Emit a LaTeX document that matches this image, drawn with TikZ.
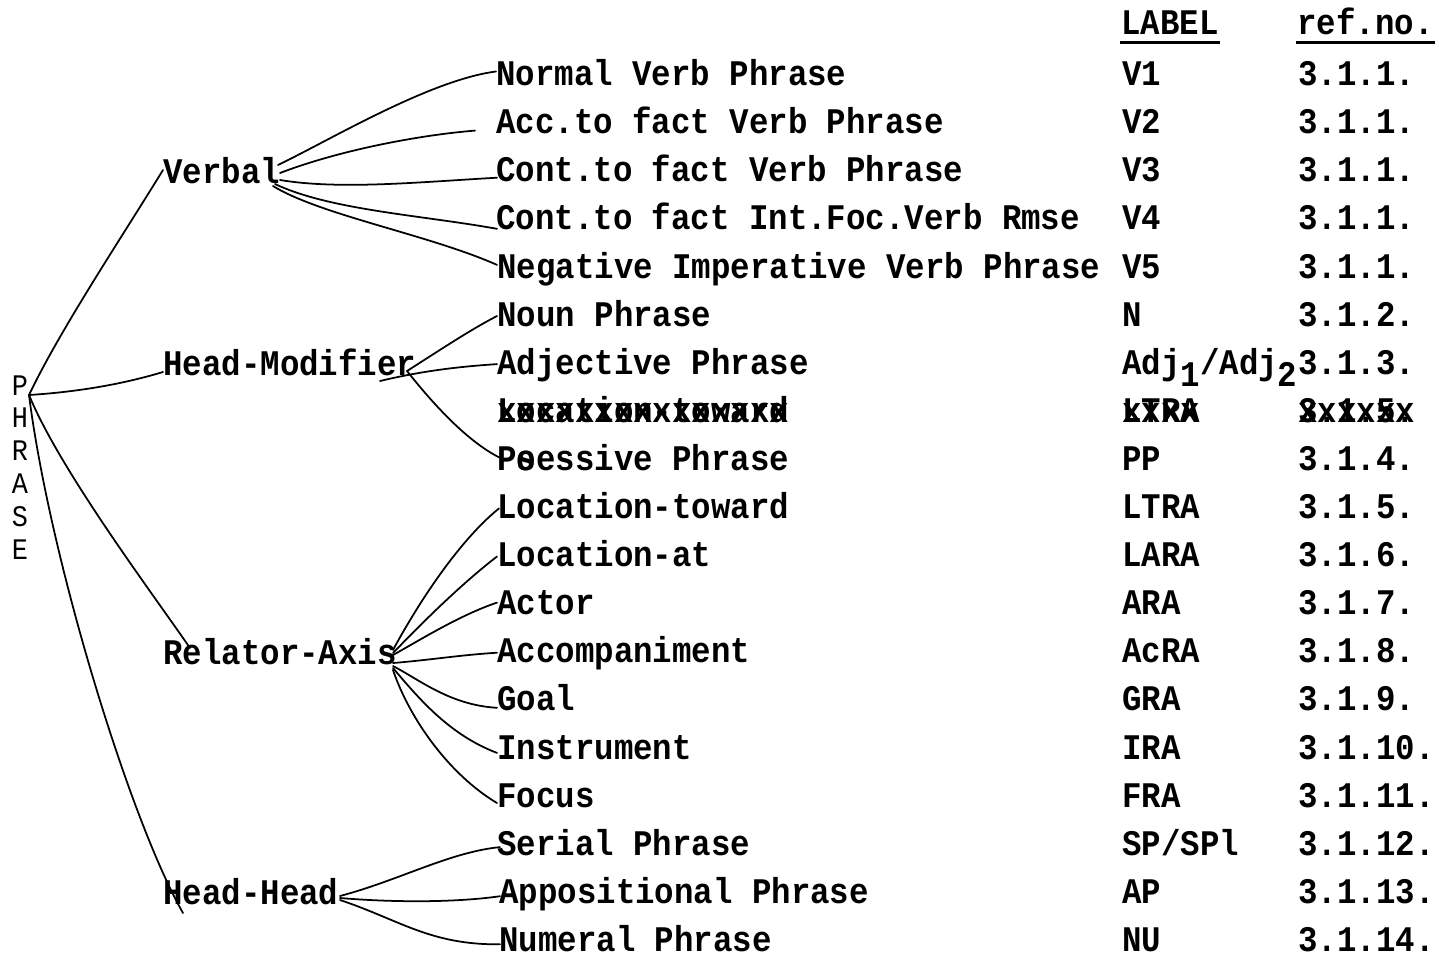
\documentclass[tikz,border=0pt]{standalone}
\usepackage{fontspec}
\usetikzlibrary{calc}
\newfontfamily\tw{Liberation Mono}[FakeStretch=0.9]
\newcommand\twb{\tw\bfseries\fontsize{20.5}{24}\selectfont}
\newcommand\phr{\tw\fontsize{17}{18.7}\selectfont}
\newcommand\dn[1]{\raisebox{-0.33em}{#1}}
\tikzset{
  item/.style={anchor=west, inner sep=0pt, text height=11.5pt, text depth=0pt, font=\twb},
  cat/.style={item},
  link/.style={line width=1pt, line cap=round},
  rule/.style={line width=1.4pt}
}
\begin{document}
\begin{tikzpicture}[x=0.02cm,y=-0.02cm]
\fill[white] (0,0) rectangle (1439,957);
\useasboundingbox (0,0) rectangle (1439,957);

% root
\node[inner sep=0pt, anchor=north, align=center, font=\phr] (phrase) at (20,375) {P\\H\\R\\A\\S\\E};
\coordinate (root) at (29,395);

% categories
\node[cat] (verbal) at (163,173) {Verbal};
\node[cat] (hm) at (163,365) {Head-Modifier};
\node[cat] (ra) at (163,654) {Relator-Axis};
\node[cat] (hh) at (163,894) {Head-Head};

\coordinate (vhub) at (278,175);
\coordinate (hmhub) at (407,371);
\coordinate (rahub) at (393,659);
\coordinate (hhhub) at (340,898);

% items
\node[item] (v1) at (496,75.5) {Normal Verb Phrase};
\node[item] (v2) at (496,123.6) {Acc.to fact Verb Phrase};
\node[item] (v3) at (496,171.7) {Cont.to fact Verb Phrase};
\node[item] (v4) at (496,219.8) {Cont.to fact Int.Foc.Verb Rmse};
\node[item] (v5) at (497,267.9) {Negative Imperative Verb Phrase};
\node[item] (np) at (497,316.0) {Noun Phrase};
\node[item] (adj) at (497,364.1) {Adjective Phrase};
\node[item] (lx) at (497,412.2) {\rlap{Location-toward}xxxxxxxxxxxxxxx};
\node[item] (pp) at (497,460.3) {P\rlap{o}sessive Phrase};
\node[item] (lt) at (497,508.4) {Location-toward};
\node[item] (la) at (497,556.5) {Location-at};
\node[item] (ar) at (497,604.6) {Actor};
\node[item] (ac) at (497,652.7) {Accompaniment};
\node[item] (gr) at (497,700.8) {Goal};
\node[item] (ir) at (497,748.9) {Instrument};
\node[item] (fr) at (497,797.0) {Focus};
\node[item] (sp) at (497,845.1) {Serial Phrase};
\node[item] (ap) at (499,893.2) {Appositional Phrase};
\node[item] (nu) at (499,941.3) {Numeral Phrase};

% header
\node[item] (hl) at (1121,24) {LABEL};
\node[item] (hr) at (1297,24) {ref.no.};
\draw[rule] ($(hl.south west)+(-1,8)$) -- ($(hl.south east)+(1,8)$);
\draw[rule] ($(hr.south west)+(-1,8)$) -- ($(hr.south east)+(1,8)$);

% labels
\node[item] (l0) at (1122,75.5) {V1};
\node[item] (l1) at (1122,123.6) {V2};
\node[item] (l2) at (1122,171.7) {V3};
\node[item] (l3) at (1122,219.8) {V4};
\node[item] (l4) at (1122,267.9) {V5};
\node[item] (l5) at (1122,316.0) {N};
\node[item] (l6) at (1122,364.1) {Adj\dn{1}/Adj\dn{2}};
\node[item] (l7) at (1122,412.2) {\rlap{LTRA}xxxx};
\node[item] (l8) at (1122,460.3) {PP};
\node[item] (l9) at (1122,508.4) {LTRA};
\node[item] (l10) at (1122,556.5) {LARA};
\node[item] (l11) at (1122,604.6) {ARA};
\node[item] (l12) at (1122,652.7) {AcRA};
\node[item] (l13) at (1122,700.8) {GRA};
\node[item] (l14) at (1122,748.9) {IRA};
\node[item] (l15) at (1122,797.0) {FRA};
\node[item] (l16) at (1122,845.1) {SP/SPl};
\node[item] (l17) at (1122,893.2) {AP};
\node[item] (l18) at (1122,941.3) {NU};

% ref numbers
\node[item] (r0) at (1298,75.5) {3.1.1.};
\node[item] (r1) at (1298,123.6) {3.1.1.};
\node[item] (r2) at (1298,171.7) {3.1.1.};
\node[item] (r3) at (1298,219.8) {3.1.1.};
\node[item] (r4) at (1298,267.9) {3.1.1.};
\node[item] (r5) at (1298,316.0) {3.1.2.};
\node[item] (r6) at (1298,364.1) {3.1.3.};
\node[item] (r7) at (1298,412.2) {\rlap{3.1.5.}xxxxxx};
\node[item] (r8) at (1298,460.3) {3.1.4.};
\node[item] (r9) at (1298,508.4) {3.1.5.};
\node[item] (r10) at (1298,556.5) {3.1.6.};
\node[item] (r11) at (1298,604.6) {3.1.7.};
\node[item] (r12) at (1298,652.7) {3.1.8.};
\node[item] (r13) at (1298,700.8) {3.1.9.};
\node[item] (r14) at (1298,748.9) {3.1.10.};
\node[item] (r15) at (1298,797.0) {3.1.11.};
\node[item] (r16) at (1298,845.1) {3.1.12.};
\node[item] (r17) at (1298,893.2) {3.1.13.};
\node[item] (r18) at (1298,941.3) {3.1.14.};

% root connectors
\draw[link] (root) .. controls (60,330) and (120,240) .. ($(verbal.west)+(0,-3)$);
\draw[link] (root) .. controls (60,393) and (110,388) .. ($(hm.west)+(0,7)$);
\draw[link] (root) .. controls (60,470) and (150,590) .. ($(ra.west)+(27,-6)$);
\draw[link] (root) .. controls (50,560) and (130,820) .. ($(hh.west)+(20,19)$);

% verbal
\draw[link] ($(vhub)+(0,-10)$) .. controls (330,140) and (430,80) .. ($(v1.west)+(0,-4)$);
\draw[link] ($(vhub)+(2,-2)$) .. controls (340,150) and (420,135) .. ($(v2.west)+(-21,7)$);
\draw[link] ($(vhub)+(2,5)$) .. controls (340,190) and (420,182) .. ($(v3.west)+(1,6)$);
\draw[link] ($(vhub)+(-3,9)$) .. controls (330,210) and (420,215) .. ($(v4.west)+(1,9)$);
\draw[link] ($(vhub)+(-5,11)$) .. controls (320,215) and (430,235) .. ($(v5.west)+(0,-3)$);

% head-modifier
\draw[link] (hmhub) .. controls (440,350) and (470,330) .. (np.west);
\draw[link] (380,381) .. controls (430,369) and (470,366) .. (adj.west);
\draw[link] (hmhub) .. controls (430,400) and (465,440) .. ($(pp.west)+(2,-3)$);

% relator-axis
\draw[link] ($(rahub)+(0,-9)$) .. controls (420,600) and (460,540) .. ($(lt.west)+(2,0)$);
\draw[link] ($(rahub)+(0,-6)$) .. controls (420,625) and (460,585) .. (la.west);
\draw[link] ($(rahub)+(0,-4)$) .. controls (420,640) and (460,615) .. ($(ar.west)+(0,-2)$);
\draw[link] ($(rahub)+(0,4)$) .. controls (430,660) and (460,655) .. (ac.west);
\draw[link] ($(rahub)+(0,7)$) .. controls (420,680) and (450,705) .. ($(gr.west)+(0,7)$);
\draw[link] ($(rahub)+(0,9)$) .. controls (420,700) and (450,735) .. ($(ir.west)+(0,4)$);
\draw[link] ($(rahub)+(0,11)$) .. controls (410,720) and (450,775) .. ($(fr.west)+(0,6)$);

% head-head
\draw[link] ($(hhhub)+(0,-2)$) .. controls (400,880) and (450,852) .. ($(sp.west)+(3,2)$);
\draw[link] (hhhub) .. controls (400,903) and (460,902) .. ($(ap.west)+(1,3)$);
\draw[link] ($(hhhub)+(0,2)$) .. controls (400,920) and (430,945) .. ($(nu.west)+(1,3)$);
\end{tikzpicture}
\end{document}
